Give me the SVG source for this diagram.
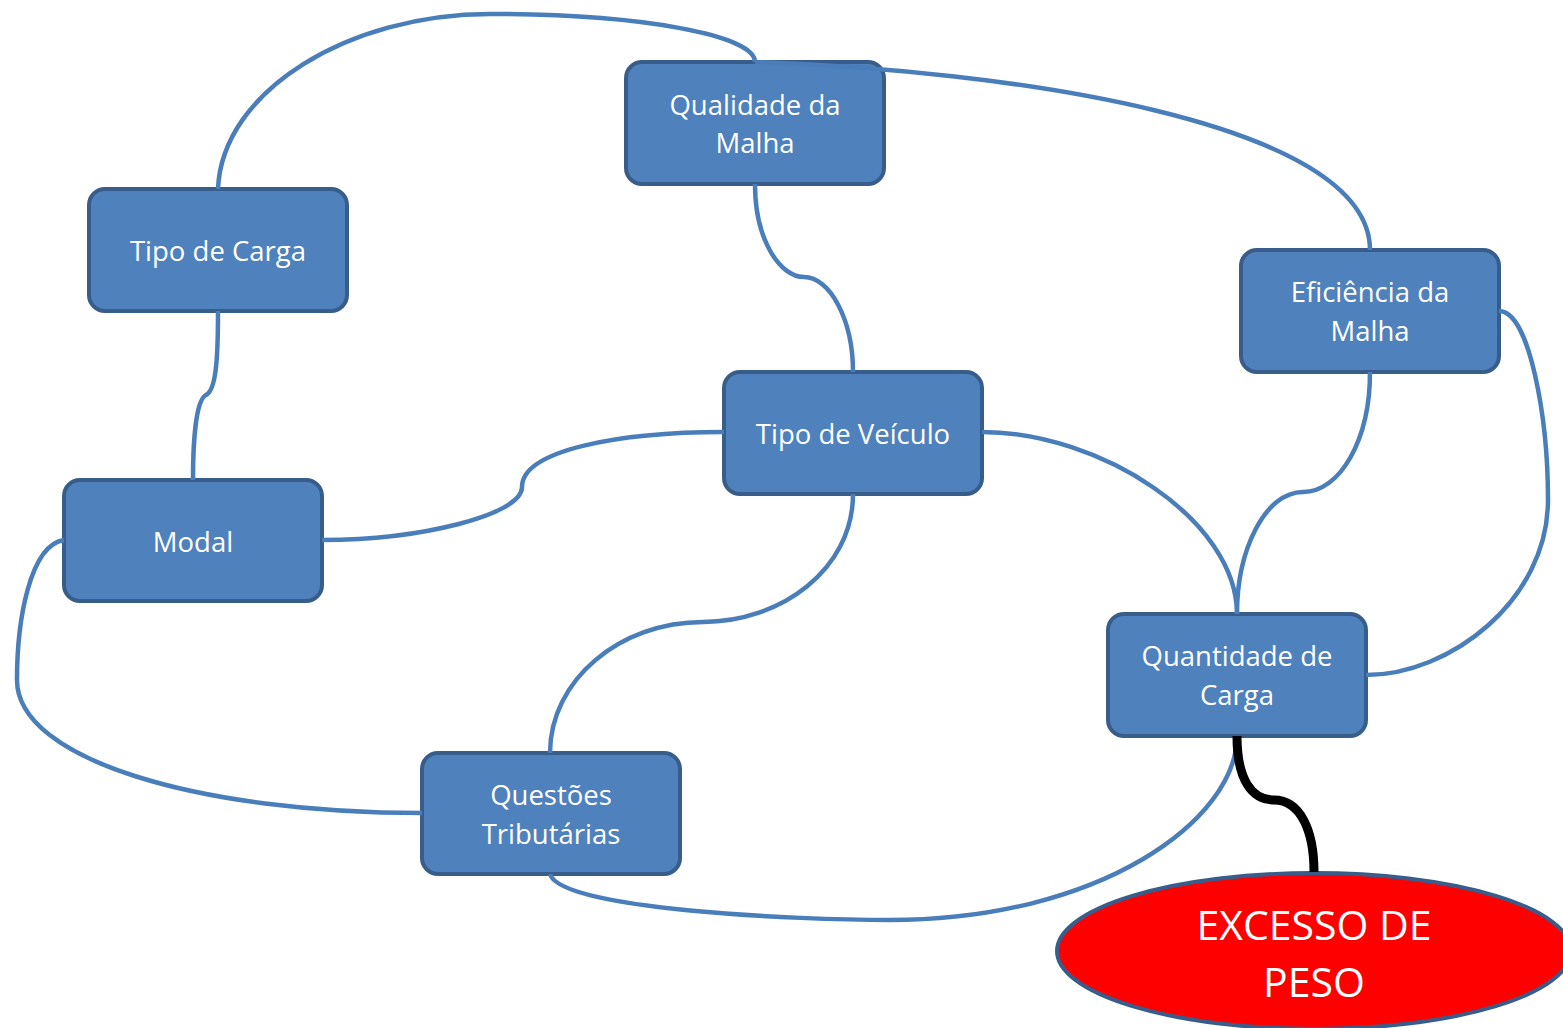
<svg xmlns="http://www.w3.org/2000/svg" width="1563" height="1028" viewBox="0 0 1563 1028">
<style>
.node rect{fill:#4F81BD;stroke:#385D8A;stroke-width:4}
.node text{fill:#FFFFFF;font-family:"Open Sans","Noto Sans",sans-serif;font-size:27.5px;text-anchor:middle}
.conn path{fill:none;stroke:#4A7EBB;stroke-width:4.5}
.conn path.dark{stroke:#000000;stroke-width:9}
</style>
<rect width="1563" height="1028" fill="#FFFFFF"/>
<g id="n-qualidade" class="node"><rect x="626" y="62" width="258" height="122" rx="16"/><text x="755" y="115">Qualidade da</text><text x="755" y="153">Malha</text></g>
<g id="n-tipocarga" class="node"><rect x="89" y="189" width="258" height="122" rx="16"/><text x="218" y="261">Tipo de Carga</text></g>
<g id="n-eficiencia" class="node"><rect x="1241" y="250" width="258" height="122" rx="16"/><text x="1370" y="302">Eficiência da</text><text x="1370" y="341">Malha</text></g>
<g id="n-veiculo" class="node"><rect x="724" y="372" width="258" height="122" rx="16"/><text x="853" y="444">Tipo de Veículo</text></g>
<g id="n-modal" class="node"><rect x="64" y="480" width="258" height="121" rx="16"/><text x="193" y="552">Modal</text></g>
<g id="n-quantidade" class="node"><rect x="1108" y="614" width="258" height="122" rx="16"/><text x="1237" y="666">Quantidade de</text><text x="1237" y="705">Carga</text></g>
<g id="n-questoes" class="node"><rect x="422" y="753" width="258" height="121" rx="16"/><text x="551" y="805">Questões</text><text x="551" y="844">Tributárias</text></g>
<g id="n-excesso"><ellipse cx="1314" cy="951" rx="257" ry="78" fill="#FF0000" stroke="#385D8A" stroke-width="4"/><text x="1314" y="940" fill="#FFFFFF" font-family="Open Sans, Noto Sans, sans-serif" font-size="41" text-anchor="middle">EXCESSO DE</text><text x="1314" y="997" fill="#FFFFFF" font-family="Open Sans, Noto Sans, sans-serif" font-size="41" text-anchor="middle">PESO</text></g>
<g id="connectors" class="conn">
<path d="M218,189 C222,90 350,14 490,14 C640,14 755,35 755,62"/>
<path d="M755,62 C1000,70 1370,120 1370,250"/>
<path d="M755,184 C755,240 780,277 804,277 C830,277 853,320 853,372"/>
<path d="M218,311 C218,360 216,390 206,395 C196,400 193,440 193,480"/>
<path d="M322,540 C420,540 522,515 522,487 C522,450 620,432 724,432"/>
<path d="M853,494 C853,570 780,622 703,622 C620,622 550,680 550,753"/>
<path d="M982,432 C1100,432 1237,520 1237,614"/>
<path d="M1370,372 C1370,440 1340,492 1303,492 C1265,492 1237,550 1237,614"/>
<path d="M1499,311 C1530,311 1548,420 1548,500 C1548,600 1450,675 1366,675"/>
<path d="M64,540 C30,545 17,620 17,680 C17,760 200,813 422,813"/>
<path d="M550,874 C560,910 800,920 890,920 C1100,920 1237,820 1237,736"/>
<path class="dark" d="M1237,736 C1237,780 1252,800 1274,800 C1300,800 1314,830 1314,872"/>
</g>
</svg>
